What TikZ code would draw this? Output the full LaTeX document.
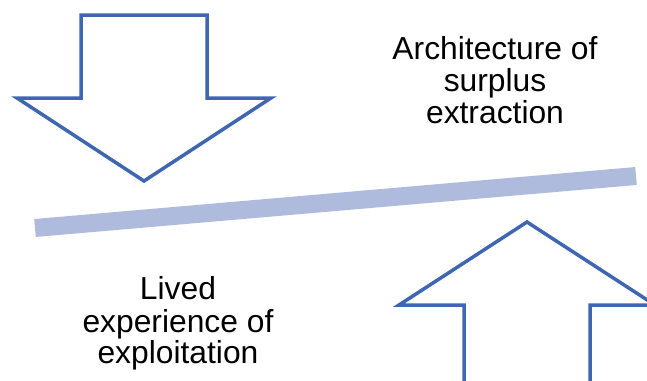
\documentclass[tikz,border=0pt]{standalone}
\usepackage{fontspec}
\setmainfont{Liberation Sans}
\definecolor{arrowblue}{RGB}{63,103,177}
\definecolor{barblue}{RGB}{175,187,221}
\tikzset{
  bigarrow/.style={draw=arrowblue, line width=3.5pt, fill=white, line join=miter},
  lever/.style={draw=barblue, line width=18pt, line cap=butt},
  label/.style={align=center, inner sep=0pt, font=\fontsize{31.8}{33}\selectfont, text=black}
}
\begin{document}
\begin{tikzpicture}[x=1pt,y=-1pt]
\useasboundingbox (0,0) rectangle (647,380);
\clip (0,0) rectangle (647,380);
% down arrow
\draw[bigarrow] (81,15) -- (207,15) -- (207,98) -- (271,98) -- (144,181) -- (17,98) -- (81,98) -- cycle;
% lever bar
\coordinate (barL) at (35,228);
\coordinate (barR) at (636,176);
\draw[lever] (barL) -- (barR);
% up arrow
\draw[bigarrow] (527,222) -- (655,305) -- (590,305) -- (590,400) -- (464,400) -- (464,305) -- (399,305) -- cycle;
% labels
\node[label, anchor=base] (top1) at (495,59.5) {Architecture of};
\node[label, anchor=base] (top2) at (495,91.5) {surplus};
\node[label, anchor=base] (top3) at (495,123) {extraction};
\node[label, anchor=base] (bot1) at (178,299) {Lived};
\node[label, anchor=base] (bot2) at (178,332) {experience of};
\node[label, anchor=base] (bot3) at (178,363.5) {exploitation};
\end{tikzpicture}
\end{document}
